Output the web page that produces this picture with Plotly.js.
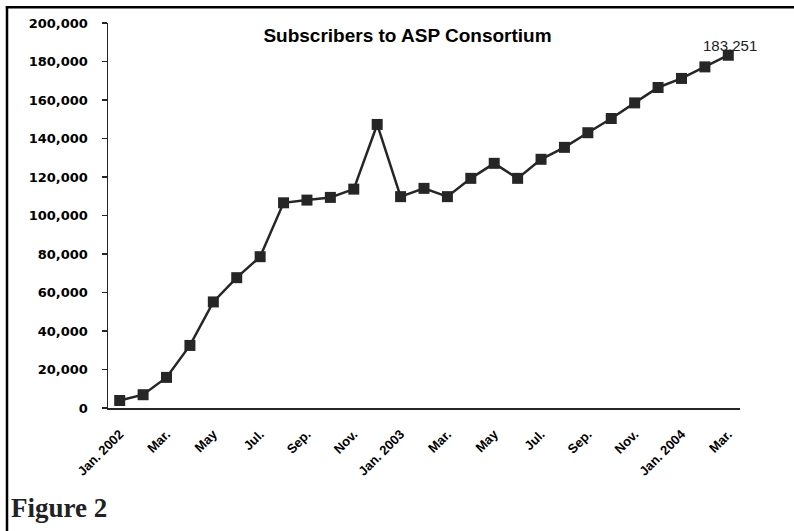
<!DOCTYPE html>
<html>
<head>
<meta charset="utf-8">
<script src="https://cdn.plot.ly/plotly-3.0.1.min.js"></script>
<style>
  html, body { margin: 0; padding: 0; background: #ffffff; }
  #chart { width: 794px; height: 531px; }
</style>
</head>
<body>
<div id="chart"></div>
<script>
// ---- Data ----
const months = [
  "2002-01","2002-02","2002-03","2002-04","2002-05","2002-06","2002-07","2002-08","2002-09",
  "2002-10","2002-11","2002-12","2003-01","2003-02","2003-03","2003-04","2003-05","2003-06",
  "2003-07","2003-08","2003-09","2003-10","2003-11","2003-12","2004-01","2004-02","2004-03"
];
const subscribers = [
  3900, 6900, 15900, 32500, 55100, 67700, 78600, 106600, 108000,
  109400, 113700, 147300, 109800, 114100, 109800, 119300, 127100, 119300,
  129200, 135400, 143000, 150400, 158500, 166500, 171200, 177200, 183251
];
const tickMonths = ["2002-01","2002-03","2002-05","2002-07","2002-09","2002-11","2003-01",
                    "2003-03","2003-05","2003-07","2003-09","2003-11","2004-01","2004-03"];
const tickLabels = ["Jan. 2002","Mar.","May","Jul.","Sep.","Nov.","Jan. 2003",
                    "Mar.","May","Jul.","Sep.","Nov.","Jan. 2004","Mar."];
const yTicks = [0,20000,40000,60000,80000,100000,120000,140000,160000,180000,200000];
const titleText = "Subscribers to ASP Consortium";
const lastLabel = "183,251";
const figureLabel = "Figure 2";

// ---- Layout geometry (pixels) ----
const W = 794, H = 531;
const L = 108, R = 740, T = 22.7, B = 408.3;
const px2x = p => (p - L) / (R - L);
const px2y = p => (B - p) / (B - T);

const dark = "#262626";
const nCat = months.length;

const trace = {
  type: "scatter",
  mode: "lines+markers",
  x: months,
  y: subscribers,
  line: { color: dark, width: 2.5 },
  marker: { symbol: "square", size: 11, color: dark },
  hoverinfo: "skip",
  showlegend: false
};

const layout = {
  width: W, height: H,
  margin: { l: L, r: W - R, t: T, b: H - B, pad: 0 },
  paper_bgcolor: "#ffffff",
  plot_bgcolor: "#ffffff",
  showlegend: false,
  title: {
    text: "<b>" + titleText + "</b>",
    font: { family: "Liberation Sans, Arial, sans-serif", size: 19, color: "#000" },
    xref: "container", yref: "container",
    x: 407.5 / W, xanchor: "center",
    y: 1 - 35.5 / H, yanchor: "middle"
  },
  xaxis: {
    type: "category",
    categoryorder: "array",
    categoryarray: months,
    range: [-0.5, nCat - 0.5],
    tickmode: "array",
    tickvals: tickMonths,
    ticktext: tickLabels,
    tickangle: -45,
    ticks: "",
    ticklabelstandoff: 12,
    tickfont: { family: "Liberation Sans, Arial, sans-serif", size: 13, color: "#000", weight: "bold" },
    showline: true, linecolor: dark, linewidth: 1.5,
    showgrid: false, zeroline: false,
    fixedrange: true
  },
  xaxis2: {
    overlaying: "x", anchor: "y",
    range: [-0.5, nCat - 0.5],
    tickmode: "linear", tick0: -0.5, dtick: 1,
    ticks: "outside", ticklen: 5, tickwidth: 1.2, tickcolor: dark,
    showticklabels: false, showline: false, showgrid: false, zeroline: false
  },
  xaxis3: {
    overlaying: "x", anchor: "y",
    range: [-0.5, nCat - 0.5],
    tickmode: "linear", tick0: -0.5, dtick: 1,
    ticks: "inside", ticklen: 4, tickwidth: 1.2, tickcolor: dark,
    showticklabels: false, showline: false, showgrid: false, zeroline: false
  },
  yaxis: {
    range: [0, 200000],
    tickmode: "array",
    tickvals: yTicks,
    ticktext: yTicks.map(v => v.toLocaleString("en-US")),
    ticks: "outside", ticklen: 5, tickwidth: 1.2, tickcolor: dark,
    ticklabelstandoff: 11,
    tickfont: { family: "DejaVu Sans, sans-serif", size: 13, color: "#000", weight: "bold" },
    showline: true, linecolor: dark, linewidth: 1.5,
    showgrid: false, zeroline: false,
    fixedrange: true
  },
  yaxis2: {
    overlaying: "y", anchor: "x",
    range: [0, 200000],
    tickmode: "array", tickvals: yTicks,
    ticks: "inside", ticklen: 5, tickwidth: 1.2, tickcolor: dark,
    showticklabels: false, showline: false, showgrid: false, zeroline: false
  },
  annotations: [
    {
      xref: "x", yref: "y",
      x: months[nCat - 1], y: subscribers[nCat - 1],
      text: lastLabel,
      showarrow: false,
      xanchor: "center", yanchor: "bottom",
      xshift: 2, yshift: -1,
      font: { family: "Liberation Sans, Arial, sans-serif", size: 15, color: "#222" }
    },
    {
      xref: "paper", yref: "paper",
      x: px2x(9), y: px2y(508),
      xanchor: "left", yanchor: "middle",
      text: "<b>" + figureLabel + "</b>",
      showarrow: false,
      font: { family: "Liberation Serif, Times New Roman, serif", size: 27, color: "#222" }
    }
  ],
  shapes: [
    { type: "line", xref: "paper", yref: "paper",
      x0: px2x(5.8), x1: px2x(W + 2), y0: px2y(7), y1: px2y(7),
      line: { color: "#000", width: 2.5 } },
    { type: "line", xref: "paper", yref: "paper",
      x0: px2x(7), x1: px2x(7), y0: px2y(5.8), y1: px2y(H + 2),
      line: { color: "#000", width: 2.5 } }
  ]
};

Plotly.newPlot("chart", [trace], layout, { staticPlot: true, displayModeBar: false });
</script>
</body>
</html>
